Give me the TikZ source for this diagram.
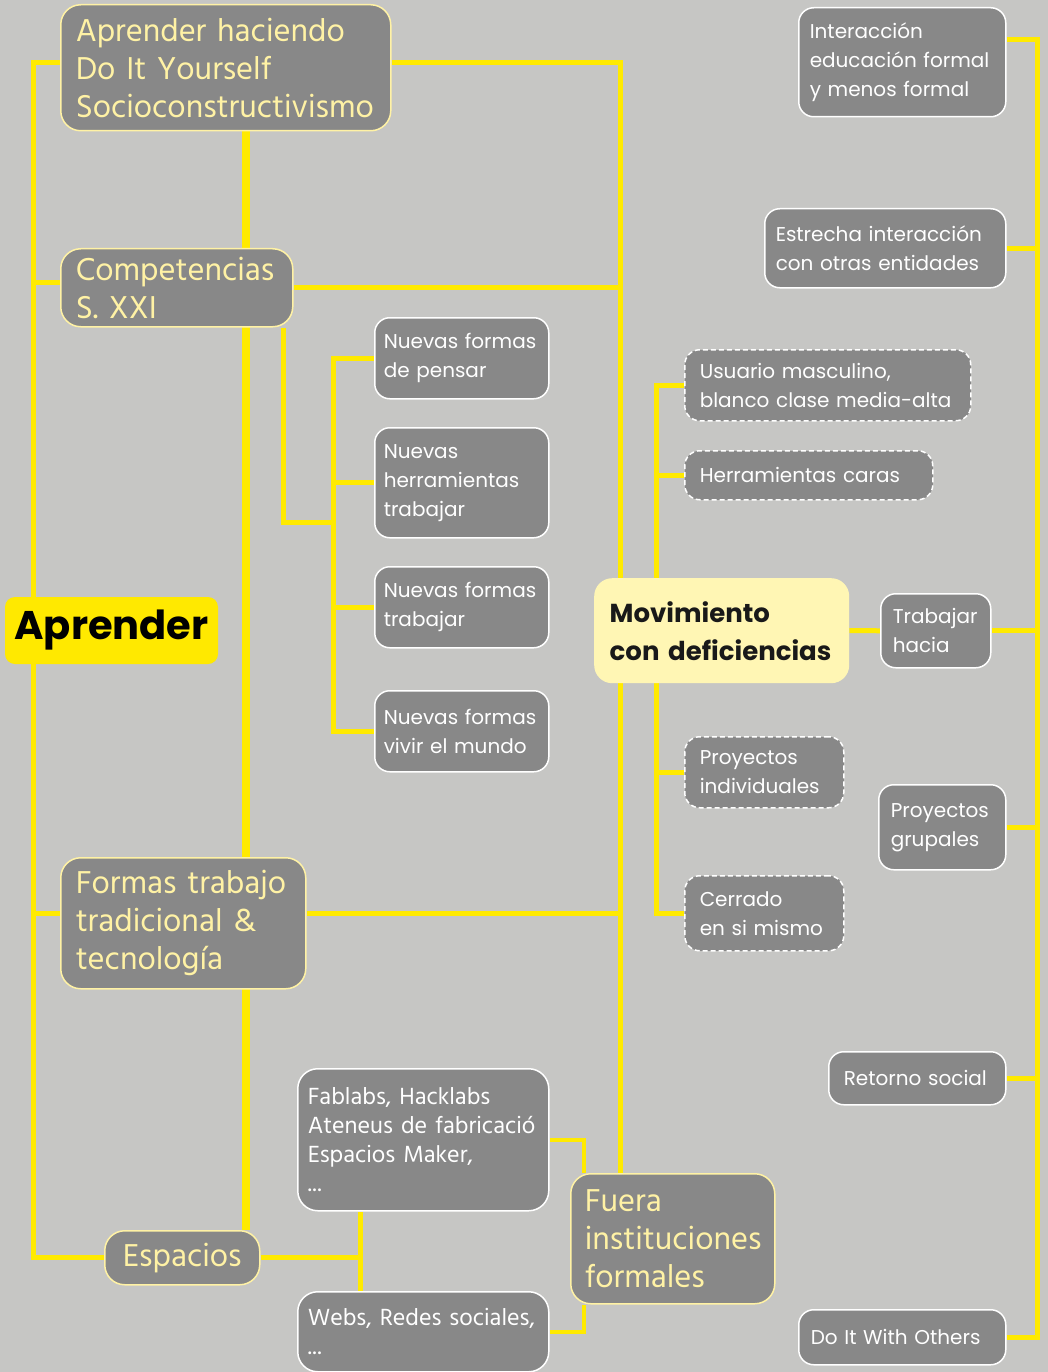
\documentclass[tikz,border=0pt]{standalone}
\usepackage{fontspec}
\setmainfont{Poppins}
\newfontfamily\hindfont{Hind Madurai}
\usetikzlibrary{backgrounds,calc}
\definecolor{bggray}{RGB}{198,198,196}
\definecolor{boxgray}{RGB}{136,136,136}
\definecolor{lineyel}{RGB}{255,234,0}
\definecolor{paleyel}{RGB}{255,242,165}
\definecolor{rootyel}{RGB}{255,233,0}
\definecolor{movyel}{RGB}{255,246,180}
\hyphenpenalty=10000
\exhyphenpenalty=10000

\begin{document}
\begin{tikzpicture}[x=1pt,y=-1pt,
  lvl1/.style={draw=paleyel,line width=1.5pt,fill=boxgray,text=paleyel,rounded corners=20pt,anchor=north west,align=left,inner xsep=15pt,inner ysep=0pt,font=\hindfont\fontsize{32.5}{38}\selectfont},
  lvl2/.style={draw=white,line width=1.5pt,fill=boxgray,text=white,rounded corners=15pt,anchor=north west,align=left,inner xsep=12pt,inner ysep=0pt,font=\fontsize{20}{29}\selectfont},
  dashbox/.style={lvl2,dash pattern=on 5pt off 3pt,inner xsep=15pt},
  spacebox/.style={lvl2,rounded corners=20pt,inner xsep=10pt,font=\hindfont\fontsize{24}{29}\selectfont},
  root/.style={fill=rootyel,rounded corners=10pt,minimum width=213pt,minimum height=67pt,text=black,font=\bfseries\fontsize{40}{48}\selectfont},
  mov/.style={fill=movyel,rounded corners=18pt,anchor=north west,align=left,inner xsep=15.5pt,inner ysep=0pt,text=black!90,font=\bfseries\fontsize{26}{38}\selectfont},
  link/.style={draw=lineyel,line width=5pt},
  thinlink/.style={draw=lineyel,line width=3.5pt}]
  \useasboundingbox (0,0) rectangle (1048,1372);
  \node[lvl1,text width=300pt,minimum height=126pt] (haciendo) at (60,4) {Aprender haciendo\\Do It Yourself\\Socioconstructivismo};
  \node[lvl1,text width=202pt,minimum height=78pt] (compet) at (60,248) {Competencias\\S. XXI};
  \node[lvl1,text width=215pt,minimum height=131pt] (formas) at (60,857) {Formas trabajo\\tradicional \&\\tecnología};
  \node[lvl1,text width=125pt,minimum height=54pt,align=center] (espacios) at (104,1230) {Espacios};
  \node[lvl1,text width=176pt,minimum height=130pt,inner xsep=14pt] (fuera) at (570,1173) {Fuera\\instituciones\\formales};
  \node[root] (aprender) at (111.5,630.5) {Aprender};
  \node[mov,text width=224pt,minimum height=105pt] (mov) at (594,578) {Movimiento\\con deficiencias};
  \node[lvl2,text width=156pt,minimum height=81pt,inner xsep=9pt] (np) at (374,317) {Nuevas formas\\de pensar};
  \node[lvl2,text width=156pt,minimum height=110pt,inner xsep=9pt] (nh) at (374,427) {Nuevas\\herramientas\\trabajar};
  \node[lvl2,text width=156pt,minimum height=81pt,inner xsep=9pt] (nt) at (374,566) {Nuevas formas\\trabajar};
  \node[lvl2,text width=156pt,minimum height=81pt,inner xsep=9pt] (nv) at (374,690) {Nuevas formas\\vivir el mundo};
  \node[dashbox,text width=256pt,minimum height=71pt] (usuario) at (684,349) {Usuario masculino,\\blanco clase media-alta};
  \node[dashbox,text width=218pt,minimum height=49pt] (herr) at (684,450) {Herramientas caras};
  \node[dashbox,text width=129pt,minimum height=71pt] (pind) at (684,736) {Proyectos\\individuales};
  \node[dashbox,text width=129pt,minimum height=75pt] (cerr) at (684,875) {Cerrado\\en si mismo};
  \node[lvl2,text width=86pt,minimum height=74pt] (trab) at (880,593) {Trabajar\\hacia};
  \node[lvl2,text width=185pt,minimum height=109pt,inner xsep=11pt] (inter) at (798,7) {Interacción\\educación formal\\y menos formal};
  \node[lvl2,text width=219pt,minimum height=79pt,inner xsep=11pt] (estr) at (764,208) {Estrecha interacción\\con otras entidades};
  \node[lvl2,text width=103pt,minimum height=85pt] (pgrup) at (878,784) {Proyectos\\grupales};
  \node[lvl2,text width=147pt,minimum height=53pt,inner xsep=15pt] (retorno) at (828,1051) {Retorno social};
  \node[lvl2,text width=183pt,minimum height=55pt] (diwo) at (798,1309) {Do It With Others};
  \node[spacebox,text width=231pt,minimum height=142pt] (fablabs) at (297,1068) {Fablabs, Hacklabs\\Ateneus de fabricació\\Espacios Maker,\\{.}\kern1pt{.}\kern1pt{.}};
  \node[spacebox,text width=231pt,minimum height=80pt] (webs) at (297,1291) {Webs, Redes sociales,\\{.}\kern1pt{.}\kern1pt{.}};
  \coordinate (ls) at (33,0); \coordinate (cs) at (246,0); \coordinate (rs) at (620,0);
  \coordinate (cb) at (283,0); \coordinate (sx) at (333,522); \coordinate (mx) at (656,0);
  \coordinate (fs) at (1037,0); \coordinate (ex) at (360,0); \coordinate (fx) at (584,0);
  \begin{scope}[on background layer]
    \fill[bggray] (0,0) rectangle (1048,1372);
    \draw[link] ([yshift=5pt]haciendo.west) -| (espacios.west -| ls) -- (espacios.west);
    \draw[link] ([yshift=5pt]compet.west) -- ([yshift=5pt]compet.west -| ls);
    \draw[link] ([yshift=10pt]formas.west) -- ([yshift=10pt]formas.west -| ls);
    \draw[link,line width=8pt] (haciendo.south -| cs) -- (espacios.north -| cs);
    \draw[link] ([yshift=5pt]haciendo.east) -| (fuera.north -| rs);
    \draw[link] (compet.east) -- (compet.east -| rs);
    \draw[link] ([yshift=10pt]formas.east) -- ([yshift=10pt]formas.east -| rs);
    \draw[link] (compet.south -| cb) |- (sx);
    \draw[link] (np.west) -| (sx); \draw[link] (nv.west) -| (sx);
    \draw[link] (nh.west) -- (nh.west -| sx); \draw[link] (nt.west) -- (nt.west -| sx);
    \draw[link] (usuario.west) -| (mov.north -| mx); \draw[link] (cerr.west) -| (mov.south -| mx);
    \draw[link] (herr.west) -- (herr.west -| mx); \draw[link] (pind.west) -- (pind.west -| mx);
    \draw[link] (mov.east) -- (trab.west);
    \draw[link] ([yshift=-33pt]inter.north east) -| (diwo.east -| fs) -- (diwo.east);
    \draw[link] (estr.east) -- (estr.east -| fs); \draw[link] (trab.east) -- (trab.east -| fs);
    \draw[link] (pgrup.east) -- (pgrup.east -| fs); \draw[link] (retorno.east) -- (retorno.east -| fs);
    \draw[link] (espacios.east) -- (espacios.east -| ex);
    \draw[link] (fablabs.south -| ex) -- (webs.north -| ex);
    \draw[thinlink] (fablabs.east) -| (fuera.north -| fx);
    \draw[thinlink] (webs.east) -| (fuera.south -| fx);
  \end{scope}
\end{tikzpicture}
\end{document}
